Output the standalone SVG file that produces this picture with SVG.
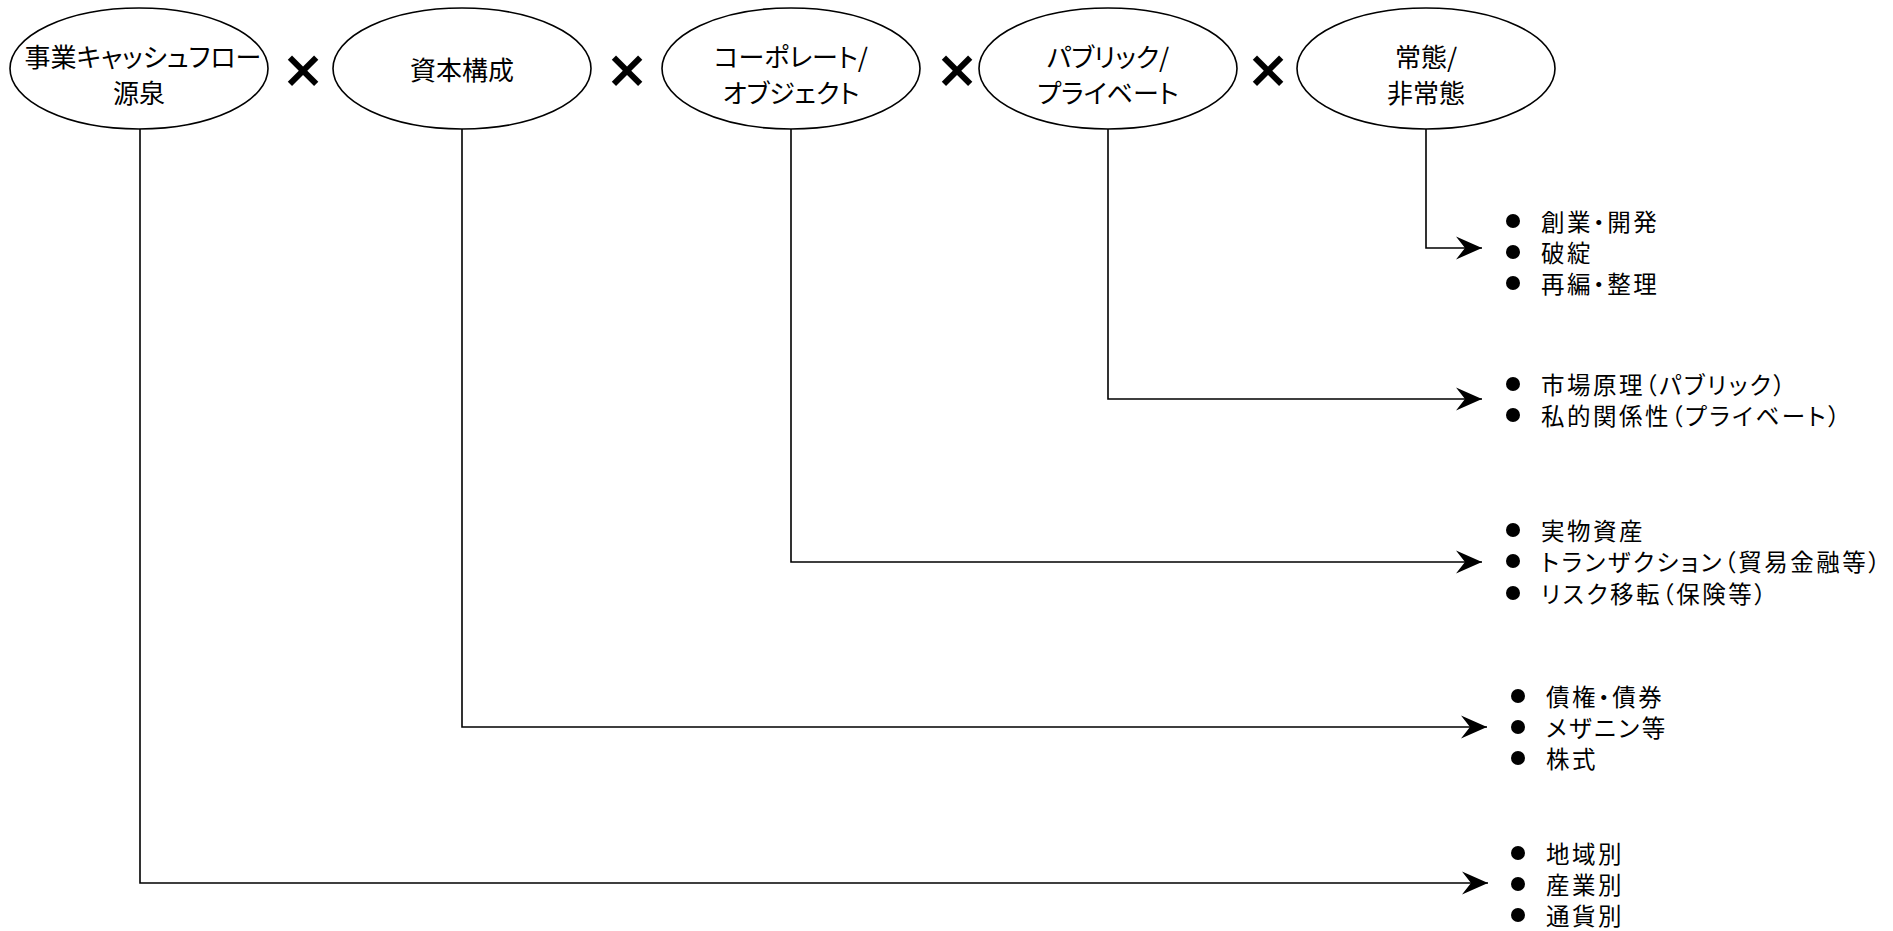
<svg xmlns="http://www.w3.org/2000/svg" width="1893" height="931" viewBox="0 0 1893 931">
<defs>
<style>
.node ellipse{fill:#fff;stroke:#000;stroke-width:1.6}
.nt{font-family:"Noto Sans CJK JP","Noto Sans",sans-serif;font-size:26px;fill:#000;text-anchor:middle;dominant-baseline:central;font-feature-settings:"palt" 1}
.lt{font-family:"Noto Sans CJK JP","Noto Sans",sans-serif;font-size:23.5px;letter-spacing:2.5px;fill:#000;dominant-baseline:central;font-feature-settings:"palt" 1}
.x{font-family:"DejaVu Sans",sans-serif;font-weight:bold;font-size:52px;fill:#000;text-anchor:middle;dominant-baseline:central}
.conn path{fill:none;stroke:#000;stroke-width:1.6}
.bul circle{fill:#000}
</style>
<marker id="arr" viewBox="-28 -14 30 28" refX="0" refY="0" markerWidth="30" markerHeight="28" markerUnits="userSpaceOnUse" orient="auto">
<path d="M0,0 L-26,-11.5 L-17,0 L-26,11.5 Z" fill="#000"/>
</marker>
</defs>
<rect width="1893" height="931" fill="#fff"/>
<g id="node-cashflow" class="node">
<ellipse cx="139" cy="68.5" rx="129" ry="60.5"/>
<text class="nt" x="143" y="55">事業キャッシュフロー</text>
<text class="nt" x="139" y="91">源泉</text>
</g>
<g id="node-capital" class="node">
<ellipse cx="462" cy="68.5" rx="129" ry="60.5"/>
<text class="nt" x="462" y="68">資本構成</text>
</g>
<g id="node-corporate" class="node">
<ellipse cx="791" cy="68.5" rx="129" ry="60.5"/>
<text class="nt" x="791" y="55">コーポレート/</text>
<text class="nt" x="791" y="91">オブジェクト</text>
</g>
<g id="node-public" class="node">
<ellipse cx="1108" cy="68.5" rx="129" ry="60.5"/>
<text class="nt" x="1108" y="55">パブリック/</text>
<text class="nt" x="1108" y="91">プライベート</text>
</g>
<g id="node-normal" class="node">
<ellipse cx="1426" cy="68.5" rx="129" ry="60.5"/>
<text class="nt" x="1426" y="55">常態/</text>
<text class="nt" x="1426" y="91">非常態</text>
</g>
<g id="operators">
<text class="x" x="303" y="69">×</text>
<text class="x" x="627" y="69">×</text>
<text class="x" x="957" y="69">×</text>
<text class="x" x="1268" y="69">×</text>
</g>
<g id="connectors" class="conn">
<path d="M1426,129 V248 H1482" marker-end="url(#arr)"/>
<path d="M1108,129 V399 H1482" marker-end="url(#arr)"/>
<path d="M791,129 V562 H1482" marker-end="url(#arr)"/>
<path d="M462,129 V727 H1487" marker-end="url(#arr)"/>
<path d="M140,129 V883 H1488" marker-end="url(#arr)"/>
</g>
<g id="list-normal" class="bul">
<circle cx="1513" cy="221" r="7"/><text class="lt" x="1541" y="221">創業・開発</text>
<circle cx="1513" cy="252" r="7"/><text class="lt" x="1541" y="252">破綻</text>
<circle cx="1513" cy="283" r="7"/><text class="lt" x="1541" y="283">再編・整理</text>
</g>
<g id="list-public" class="bul">
<circle cx="1513" cy="384" r="7"/><text class="lt" x="1541" y="384">市場原理（パブリック）</text>
<circle cx="1513" cy="415" r="7"/><text class="lt" x="1541" y="415">私的関係性（プライベート）</text>
</g>
<g id="list-corporate" class="bul">
<circle cx="1513" cy="530" r="7"/><text class="lt" x="1541" y="530">実物資産</text>
<circle cx="1513" cy="561" r="7"/><text class="lt" x="1541" y="561">トランザクション（貿易金融等）</text>
<circle cx="1513" cy="593" r="7"/><text class="lt" x="1541" y="593">リスク移転（保険等）</text>
</g>
<g id="list-capital" class="bul">
<circle cx="1518" cy="696" r="7"/><text class="lt" x="1546" y="696">債権・債券</text>
<circle cx="1518" cy="727" r="7"/><text class="lt" x="1546" y="727">メザニン等</text>
<circle cx="1518" cy="758" r="7"/><text class="lt" x="1546" y="758">株式</text>
</g>
<g id="list-cashflow" class="bul">
<circle cx="1518" cy="853" r="7"/><text class="lt" x="1546" y="853">地域別</text>
<circle cx="1518" cy="884" r="7"/><text class="lt" x="1546" y="884">産業別</text>
<circle cx="1518" cy="915" r="7"/><text class="lt" x="1546" y="915">通貨別</text>
</g>
</svg>
